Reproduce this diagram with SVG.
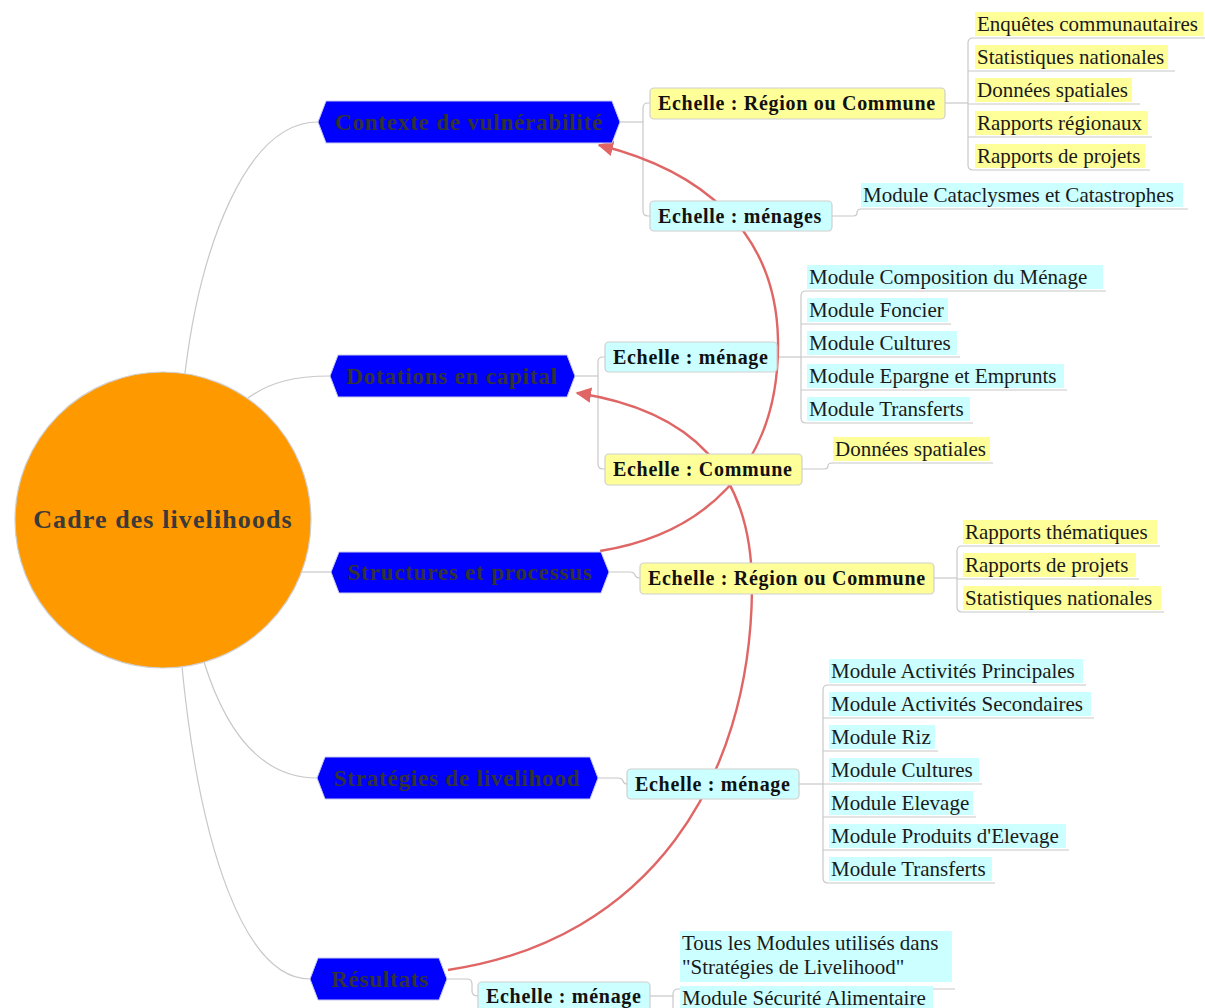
<svg xmlns="http://www.w3.org/2000/svg" width="1205" height="1008" viewBox="0 0 1205 1008">
  <defs>
    <style>
      .root-c { fill: #ff9900; stroke: #d0d0d0; stroke-width: 1.2; }
      .root-t { font-family: "Liberation Serif", "Times New Roman", serif; font-weight: bold; font-size: 26px; letter-spacing: 1.1px; fill: #3a3a3a; text-anchor: middle; }
      .main { fill: #0000ff; stroke: #c8c8ee; stroke-width: 1; }
      .main-t { font-family: "Liberation Serif", "Times New Roman", serif; font-weight: bold; font-size: 23px; letter-spacing: 0.8px; fill: #333333; text-anchor: middle; }
      .box-y { fill: #ffff99; stroke: #cfcfcf; stroke-width: 1.2; }
      .box-c { fill: #ccffff; stroke: #cfcfcf; stroke-width: 1.2; }
      .lbl { font-family: "Liberation Serif", "Times New Roman", serif; font-weight: bold; font-size: 20px; letter-spacing: 0.7px; fill: #111111; }
      .hl-y { fill: #ffff99; }
      .hl-c { fill: #ccffff; }
      .leaf { font-family: "Liberation Serif", "Times New Roman", serif; font-size: 21px; fill: #1a1a1a; }
      .ln { fill: none; stroke: #c8c8c8; stroke-width: 1.2; }
      .rel { fill: none; stroke: #e06666; stroke-width: 2.4; }
    </style>
    <marker id="arrow" viewBox="0 0 10 10" refX="9" refY="5" markerWidth="6.5" markerHeight="6.5" markerUnits="strokeWidth" orient="auto">
      <path d="M0,0 L10,5 L0,10 z" fill="#e06666"/>
    </marker>
  </defs>

  <rect width="1205" height="1008" fill="#ffffff"/>

  <!-- tree branches and underlines -->
  <g id="connectors">
    <!-- centre to main topics -->
    <path class="ln" d="M185,373 C200,250 245,122 318,122"/>
    <path class="ln" d="M248,398 C270,382 295,376 330,376"/>
    <path class="ln" d="M302,572 H331"/>
    <path class="ln" d="M204,662 C230,745 270,778 317,778"/>
    <path class="ln" d="M182,667 C200,850 245,979 310,979"/>

    <!-- main topics to scale boxes -->
    <path class="ln" d="M620,122 H643"/>
    <path class="ln" d="M650,103 H648 Q643,103 643,108 V211 Q643,216 648,216 H650"/>
    <path class="ln" d="M575,376 H598"/>
    <path class="ln" d="M605,357 H603 Q598,357 598,362 V464 Q598,469 603,469 H605"/>
    <path class="ln" d="M609,572 H630 Q634,572 635,575 Q636,578 640,578"/>
    <path class="ln" d="M598,778 H618 Q622,778 623,781 Q624,784 627,784"/>
    <path class="ln" d="M447,979 H467 Q472,979 472,984 V991 Q472,996 478,996"/>

    <!-- scale boxes to sources -->
    <path class="ln" d="M945,103 H968"/>
    <path class="ln" d="M1205,38 H973 Q968,38 968,43 V165 Q968,170 973,170 H1150"/>
    <path class="ln" d="M968,71 H1175 M968,104 H1140 M968,137 H1152"/>

    <path class="ln" d="M832,216 H853 Q857,216 857,213 Q857,209 861,209 H1188"/>

    <path class="ln" d="M777,357 H801"/>
    <path class="ln" d="M1106,291 H806 Q801,291 801,296 V418 Q801,423 806,423 H973"/>
    <path class="ln" d="M801,324 H951 M801,357 H960 M801,390 H1067"/>

    <path class="ln" d="M802,469 H824 Q828,469 828,466 Q828,463 832,463 H993"/>

    <path class="ln" d="M934,578 H957"/>
    <path class="ln" d="M1160,546 H962 Q957,546 957,551 V607 Q957,612 962,612 H1164"/>
    <path class="ln" d="M957,579 H1139"/>

    <path class="ln" d="M799,784 H823"/>
    <path class="ln" d="M1086,685 H828 Q823,685 823,690 V878 Q823,883 828,883 H995"/>
    <path class="ln" d="M823,718 H1094 M823,751 H938 M823,784 H982 M823,817 H976 M823,850 H1069"/>

    <path class="ln" d="M650,996 H673"/>
    <path class="ln" d="M955,989 H678 Q673,989 673,994 V1010"/>

    <!-- relationship arrows -->
    <path class="rel" marker-end="url(#arrow)" d="M600,551 C700,535 780,470 778,340 C776,230 700,170 599,145"/>
    <path class="rel" marker-end="url(#arrow)" d="M448,970 C650,940 750,780 752,590 C753,470 690,410 577,393"/>
  </g>

  <!-- central topic -->
  <g id="root">
    <circle class="root-c" cx="163" cy="520" r="148"/>
    <text class="root-t" x="163" y="528">Cadre des livelihoods</text>
  </g>

  <!-- main topics -->
  <g id="contexte">
    <polygon class="main" points="318,122 326,101 612,101 620,122 612,143 326,143"/>
    <text class="main-t" x="469" y="130">Contexte de vulnérabilité</text>
  </g>
  <g id="dotations">
    <polygon class="main" points="330,376 338,355 567,355 575,376 567,397 338,397"/>
    <text class="main-t" x="452" y="384">Dotations en capital</text>
  </g>
  <g id="structures">
    <polygon class="main" points="331,572 339,552 601,552 609,572 601,593 339,593"/>
    <text class="main-t" x="470" y="580">Structures et processus</text>
  </g>
  <g id="strategies">
    <polygon class="main" points="317,778 325,757 590,757 598,778 590,799 325,799"/>
    <text class="main-t" x="457" y="786">Stratégies de livelihood</text>
  </g>
  <g id="resultats">
    <polygon class="main" points="310,979 318,958 439,958 447,979 439,1000 318,1000"/>
    <text class="main-t" x="380" y="987">Résultats</text>
  </g>

  <!-- scale boxes -->
  <g id="ctx-region">
    <rect class="box-y" x="650" y="88" width="295" height="31" rx="4"/>
    <text class="lbl" x="658" y="110">Echelle : Région ou Commune</text>
  </g>
  <g id="ctx-menages">
    <rect class="box-c" x="650" y="201" width="182" height="30" rx="4"/>
    <text class="lbl" x="658" y="223">Echelle : ménages</text>
  </g>
  <g id="dot-menage">
    <rect class="box-c" x="605" y="342" width="172" height="30" rx="4"/>
    <text class="lbl" x="613" y="364">Echelle : ménage</text>
  </g>
  <g id="dot-commune">
    <rect class="box-y" x="605" y="454" width="197" height="31" rx="4"/>
    <text class="lbl" x="613" y="476">Echelle : Commune</text>
  </g>
  <g id="str-region">
    <rect class="box-y" x="640" y="563" width="294" height="31" rx="4"/>
    <text class="lbl" x="648" y="585">Echelle : Région ou Commune</text>
  </g>
  <g id="strat-menage">
    <rect class="box-c" x="627" y="769" width="172" height="30" rx="4"/>
    <text class="lbl" x="635" y="791">Echelle : ménage</text>
  </g>
  <g id="res-menage">
    <rect class="box-c" x="478" y="982" width="172" height="30" rx="4"/>
    <text class="lbl" x="486" y="1003">Echelle : ménage</text>
  </g>

  <!-- sources under the vulnerability context -->
  <g id="src-enquetes"><rect class="hl-y" x="975" y="12" width="228" height="24"/><text class="leaf" x="977" y="31">Enquêtes communautaires</text></g>
  <g id="src-stats1"><rect class="hl-y" x="975" y="45" width="193" height="24"/><text class="leaf" x="977" y="64">Statistiques nationales</text></g>
  <g id="src-spatial1"><rect class="hl-y" x="975" y="78" width="157" height="24"/><text class="leaf" x="977" y="97">Données spatiales</text></g>
  <g id="src-regionaux"><rect class="hl-y" x="975" y="111" width="173" height="24"/><text class="leaf" x="977" y="130">Rapports régionaux</text></g>
  <g id="src-projets1"><rect class="hl-y" x="975" y="144" width="170" height="24"/><text class="leaf" x="977" y="163">Rapports de projets</text></g>
  <g id="mod-cataclysmes"><rect class="hl-c" x="861" y="183" width="322" height="24"/><text class="leaf" x="863" y="202">Module Cataclysmes et Catastrophes</text></g>

  <!-- sources under capital endowments -->
  <g id="mod-composition"><rect class="hl-c" x="807" y="265" width="296" height="24"/><text class="leaf" x="809" y="284">Module Composition du Ménage</text></g>
  <g id="mod-foncier"><rect class="hl-c" x="807" y="298" width="141" height="24"/><text class="leaf" x="809" y="317">Module Foncier</text></g>
  <g id="mod-cultures1"><rect class="hl-c" x="807" y="331" width="150" height="24"/><text class="leaf" x="809" y="350">Module Cultures</text></g>
  <g id="mod-epargne"><rect class="hl-c" x="807" y="364" width="257" height="24"/><text class="leaf" x="809" y="383">Module Epargne et Emprunts</text></g>
  <g id="mod-transferts1"><rect class="hl-c" x="807" y="397" width="163" height="24"/><text class="leaf" x="809" y="416">Module Transferts</text></g>
  <g id="src-spatial2"><rect class="hl-y" x="833" y="437" width="157" height="24"/><text class="leaf" x="835" y="456">Données spatiales</text></g>

  <!-- sources under structures and processes -->
  <g id="src-thematiques"><rect class="hl-y" x="963" y="520" width="194" height="24"/><text class="leaf" x="965" y="539">Rapports thématiques</text></g>
  <g id="src-projets2"><rect class="hl-y" x="963" y="553" width="173" height="24"/><text class="leaf" x="965" y="572">Rapports de projets</text></g>
  <g id="src-stats2"><rect class="hl-y" x="963" y="586" width="198" height="24"/><text class="leaf" x="965" y="605">Statistiques nationales</text></g>

  <!-- modules under livelihood strategies -->
  <g id="mod-principales"><rect class="hl-c" x="829" y="659" width="254" height="24"/><text class="leaf" x="831" y="678">Module Activités Principales</text></g>
  <g id="mod-secondaires"><rect class="hl-c" x="829" y="692" width="262" height="24"/><text class="leaf" x="831" y="711">Module Activités Secondaires</text></g>
  <g id="mod-riz"><rect class="hl-c" x="829" y="725" width="106" height="24"/><text class="leaf" x="831" y="744">Module Riz</text></g>
  <g id="mod-cultures2"><rect class="hl-c" x="829" y="758" width="150" height="24"/><text class="leaf" x="831" y="777">Module Cultures</text></g>
  <g id="mod-elevage"><rect class="hl-c" x="829" y="791" width="144" height="24"/><text class="leaf" x="831" y="810">Module Elevage</text></g>
  <g id="mod-produits"><rect class="hl-c" x="829" y="824" width="237" height="24"/><text class="leaf" x="831" y="843">Module Produits d'Elevage</text></g>
  <g id="mod-transferts2"><rect class="hl-c" x="829" y="857" width="163" height="24"/><text class="leaf" x="831" y="876">Module Transferts</text></g>

  <!-- modules under outcomes -->
  <g id="mod-tous"><rect class="hl-c" x="680" y="931" width="272" height="51"/><text class="leaf" x="682" y="950">Tous les Modules utilisés dans</text><text class="leaf" x="682" y="974">"Stratégies de Livelihood"</text></g>
  <g id="mod-securite"><rect class="hl-c" x="680" y="986" width="253" height="24"/><text class="leaf" x="682" y="1005">Module Sécurité Alimentaire</text></g>
</svg>
